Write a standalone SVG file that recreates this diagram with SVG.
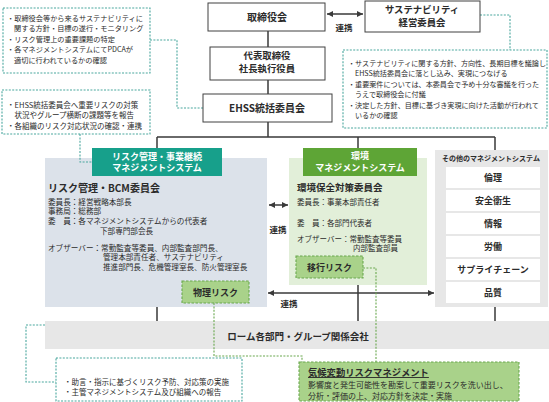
<svg xmlns="http://www.w3.org/2000/svg" width="549" height="402" viewBox="0 0 549 402">
<style>
text{font-family:"Noto Sans CJK JP","Noto Sans",sans-serif;fill:#2b2b2b}
.b{font-weight:bold}
.box{fill:#fff;stroke:#404040;stroke-width:1}
.ln{stroke:#3a3a3a;stroke-width:1.5;fill:none}
.dt{fill:#fff;stroke:#4aa79e;stroke-width:1.1;stroke-dasharray:2 1.4}
.dtl{fill:none;stroke:#4aa79e;stroke-width:1.1;stroke-dasharray:2 1.4}
.dg{fill:#a9d28a;stroke:#6aa84f;stroke-width:1.1;stroke-dasharray:2.5 1.5}
.dgl{fill:none;stroke:#6aa84f;stroke-width:1.1;stroke-dasharray:2 1.4}
.s72{font-size:7.2px}
.s75{font-size:7.5px}
.s76{font-size:7.6px}
.tb{font-size:10px;font-weight:bold;text-anchor:middle}
.tb2{font-size:9.4px;font-weight:bold;text-anchor:middle}
.hd{font-size:9px;font-weight:bold;fill:#fff;text-anchor:middle}
.it{font-size:9px;font-weight:bold;text-anchor:middle}
.row{fill:#fff}
</style>
<defs>
<marker id="ah" viewBox="0 0 6 6" refX="6" refY="3" markerWidth="6" markerHeight="6" markerUnits="userSpaceOnUse" orient="auto-start-reverse">
<path d="M0,0 L6,3 L0,6 z" fill="#3a3a3a"/>
</marker>
</defs>

<!-- panels (background) -->
<g id="risk-panel">
<rect x="45" y="158" width="222" height="149" fill="#dce2ea"/>
<rect x="92" y="148" width="130" height="28" fill="#17a08b"/>
<text class="hd" x="157" y="159.5">リスク管理・事業継続</text>
<text class="hd" x="157" y="171">マネジメントシステム</text>
<text class="b" x="48" y="191.5" font-size="10">リスク管理・BCM委員会</text>
<text class="s76" x="48" y="204.5">委員長：経営戦略本部長</text>
<text class="s76" x="48" y="214.2">事務局：総務部</text>
<text class="s76" x="48" y="223.9">委　員：各マネジメントシステムからの代表者</text>
<text class="s76" x="100" y="233.5">下部専門部会長</text>
<text class="s76" x="48" y="250.5">オブザーバー：常勤監査等委員、内部監査部門長、</text>
<text class="s76" x="103" y="260.1">管理本部責任者、サステナビリティ</text>
<text class="s76" x="103" y="269.7">推進部門長、危機管理室長、防火管理室長</text>
</g>

<g id="env-panel">
<rect x="289" y="158" width="138" height="127" fill="#e2efd9"/>
<rect x="303" y="148" width="114" height="28" fill="#5ea536"/>
<text class="hd" x="360" y="159">環境</text>
<text class="hd" x="360" y="170.5">マネジメントシステム</text>
<text class="b" x="297" y="190.5" font-size="9.5">環境保全対策委員会</text>
<text class="s75" x="297" y="204.8">委員長：事業本部責任者</text>
<text class="s75" x="297" y="225.8">委　員：各部門代表者</text>
<text class="s75" x="297" y="241.5">オブザーバー：常勤監査等委員</text>
<text class="s75" x="353" y="251.2">内部監査部員</text>
</g>

<g id="other-panel">
<rect x="435" y="150" width="113" height="157" fill="#e7e7e7"/>
<text class="b" x="491" y="160.5" font-size="7px" text-anchor="middle">その他のマネジメントシステム</text>
<rect class="row" x="446" y="167" width="94" height="21"/>
<rect class="row" x="446" y="190" width="94" height="21"/>
<rect class="row" x="446" y="213" width="94" height="21"/>
<rect class="row" x="446" y="236" width="94" height="21"/>
<rect class="row" x="446" y="259" width="94" height="21"/>
<rect class="row" x="446" y="282" width="94" height="21"/>
<text class="it" x="493" y="180.8">倫理</text>
<text class="it" x="493" y="203.8">安全衛生</text>
<text class="it" x="493" y="226.8">情報</text>
<text class="it" x="493" y="249.8">労働</text>
<text class="it" x="493" y="272.8">サプライチェーン</text>
<text class="it" x="493" y="295.8">品質</text>
</g>

<g id="rohm-bar">
<rect x="45" y="321" width="504" height="28" fill="#e7e7e7"/>
<text class="b" x="298" y="339.5" font-size="9.5" text-anchor="middle">ローム各部門・グループ関係会社</text>
</g>

<!-- connectors -->
<g id="connectors">
<path class="ln" d="M268,31 V47 M268,80 V94 M268,122 V137 M157,137 H495 M157,137 V148 M358,137 V148 M495,137 V150 M358,285 V321 M157,307 V321 M495,307 V321"/>
<line class="ln" x1="327" y1="14" x2="363" y2="14" marker-start="url(#ah)" marker-end="url(#ah)"/>
<line class="ln" x1="269" y1="205" x2="288" y2="205" marker-start="url(#ah)" marker-end="url(#ah)"/>
<line class="ln" x1="268" y1="293" x2="434" y2="293" marker-start="url(#ah)" marker-end="url(#ah)"/>
<text class="b" x="344" y="31" font-size="8.5" text-anchor="middle">連携</text>
<text class="b" x="278" y="233" font-size="8.5" text-anchor="middle">連携</text>
<text class="b" x="289" y="307" font-size="8.5" text-anchor="middle">連携</text>
<path class="dtl" d="M150,40 H177 V108 H203"/>
<path class="dtl" d="M480,15 H510 V50"/>
<path class="dtl" d="M80,134 V162 H92"/>
<path class="dtl" d="M45,325 H26 V382 H56"/>
<path class="dgl" d="M214,303 V356 H302 V362"/>
<path class="dgl" d="M363,268 H376 V362"/>
</g>

<!-- governance boxes -->
<g id="board">
<rect class="box" x="208" y="3" width="117" height="28"/>
<text class="tb" x="267" y="20.5">取締役会</text>
</g>
<g id="president">
<rect class="box" x="210" y="47" width="115" height="33"/>
<text class="tb2" x="267" y="58.5">代表取締役</text>
<text class="tb2" x="267" y="72">社長執行役員</text>
</g>
<g id="ehss">
<rect class="box" x="203" y="94" width="129" height="28"/>
<text class="tb" x="267" y="111.5">EHSS統括委員会</text>
</g>
<g id="sustainability">
<rect class="box" x="365" y="1" width="115" height="31"/>
<text class="tb2" x="422" y="12.5">サステナビリティ</text>
<text class="tb2" x="422" y="25.5">経営委員会</text>
</g>

<!-- note boxes -->
<g id="note-topleft">
<rect class="dt" x="3" y="8" width="147" height="65"/>
<text class="s72" x="7" y="20.6">・取締役会等から来るサステナビリティに</text>
<text class="s72" x="14" y="31.2">関する方針・目標の遂行・モニタリング</text>
<text class="s72" x="7" y="41.8">・リスク管理上の重要課題の特定</text>
<text class="s72" x="7" y="52.4">・各マネジメントシステムにてPDCAが</text>
<text class="s72" x="14" y="63">適切に行われているかの確認</text>
</g>
<g id="note-left2">
<rect class="dt" x="2" y="90" width="148" height="44"/>
<text class="s75" x="7" y="107.5">・EHSS統括委員会へ重要リスクの対策</text>
<text class="s75" x="14.5" y="117.8">状況やグループ横断の課題等を報告</text>
<text class="s75" x="7" y="129">・各組織のリスク対応状況の確認・連携</text>
</g>
<g id="note-right">
<rect class="dt" x="343" y="50" width="204" height="78"/>
<text font-size="7.1" x="348" y="65.5">・サステナビリティに関する方針、方向性、長期目標を議論し</text>
<text font-size="7.1" x="355" y="76">EHSS統括委員会に落とし込み、実現につなげる</text>
<text font-size="7.1" x="348" y="86.5">・重要案件については、本委員会で予め十分な審議を行った</text>
<text font-size="7.1" x="355" y="97">うえで取締役会に付議</text>
<text font-size="7.1" x="348" y="107.5">・決定した方針、目標に基づき実現に向けた活動が行われて</text>
<text font-size="7.1" x="355" y="118">いるかの確認</text>
</g>
<g id="note-bottomleft">
<rect class="dt" x="56" y="358" width="186" height="43"/>
<text class="s75" x="64" y="384.5">・助言・指示に基づくリスク予防、対応策の実施</text>
<text class="s75" x="64" y="394.5">・主管マネジメントシステム及び組織への報告</text>
</g>

<!-- risk boxes -->
<g id="physical-risk">
<rect class="dg" x="182" y="281" width="67" height="22"/>
<text class="b" x="215.5" y="295.5" font-size="9" text-anchor="middle" fill="#2f4a1f">物理リスク</text>
</g>
<g id="transition-risk">
<rect class="dg" x="296" y="256" width="67" height="22"/>
<text class="b" x="329.5" y="270.5" font-size="9" text-anchor="middle" fill="#2f4a1f">移行リスク</text>
</g>
<g id="climate">
<rect class="dg" x="299" y="362" width="220" height="39"/>
<text class="b" x="308" y="376" font-size="9.3" text-decoration="underline">気候変動リスクマネジメント</text>
<text x="308" y="388" font-size="8">影響度と発生可能性を勘案して重要リスクを洗い出し、</text>
<text x="308" y="398.5" font-size="8">分析・評価の上、対応方針を決定・実施</text>
</g>
</svg>
